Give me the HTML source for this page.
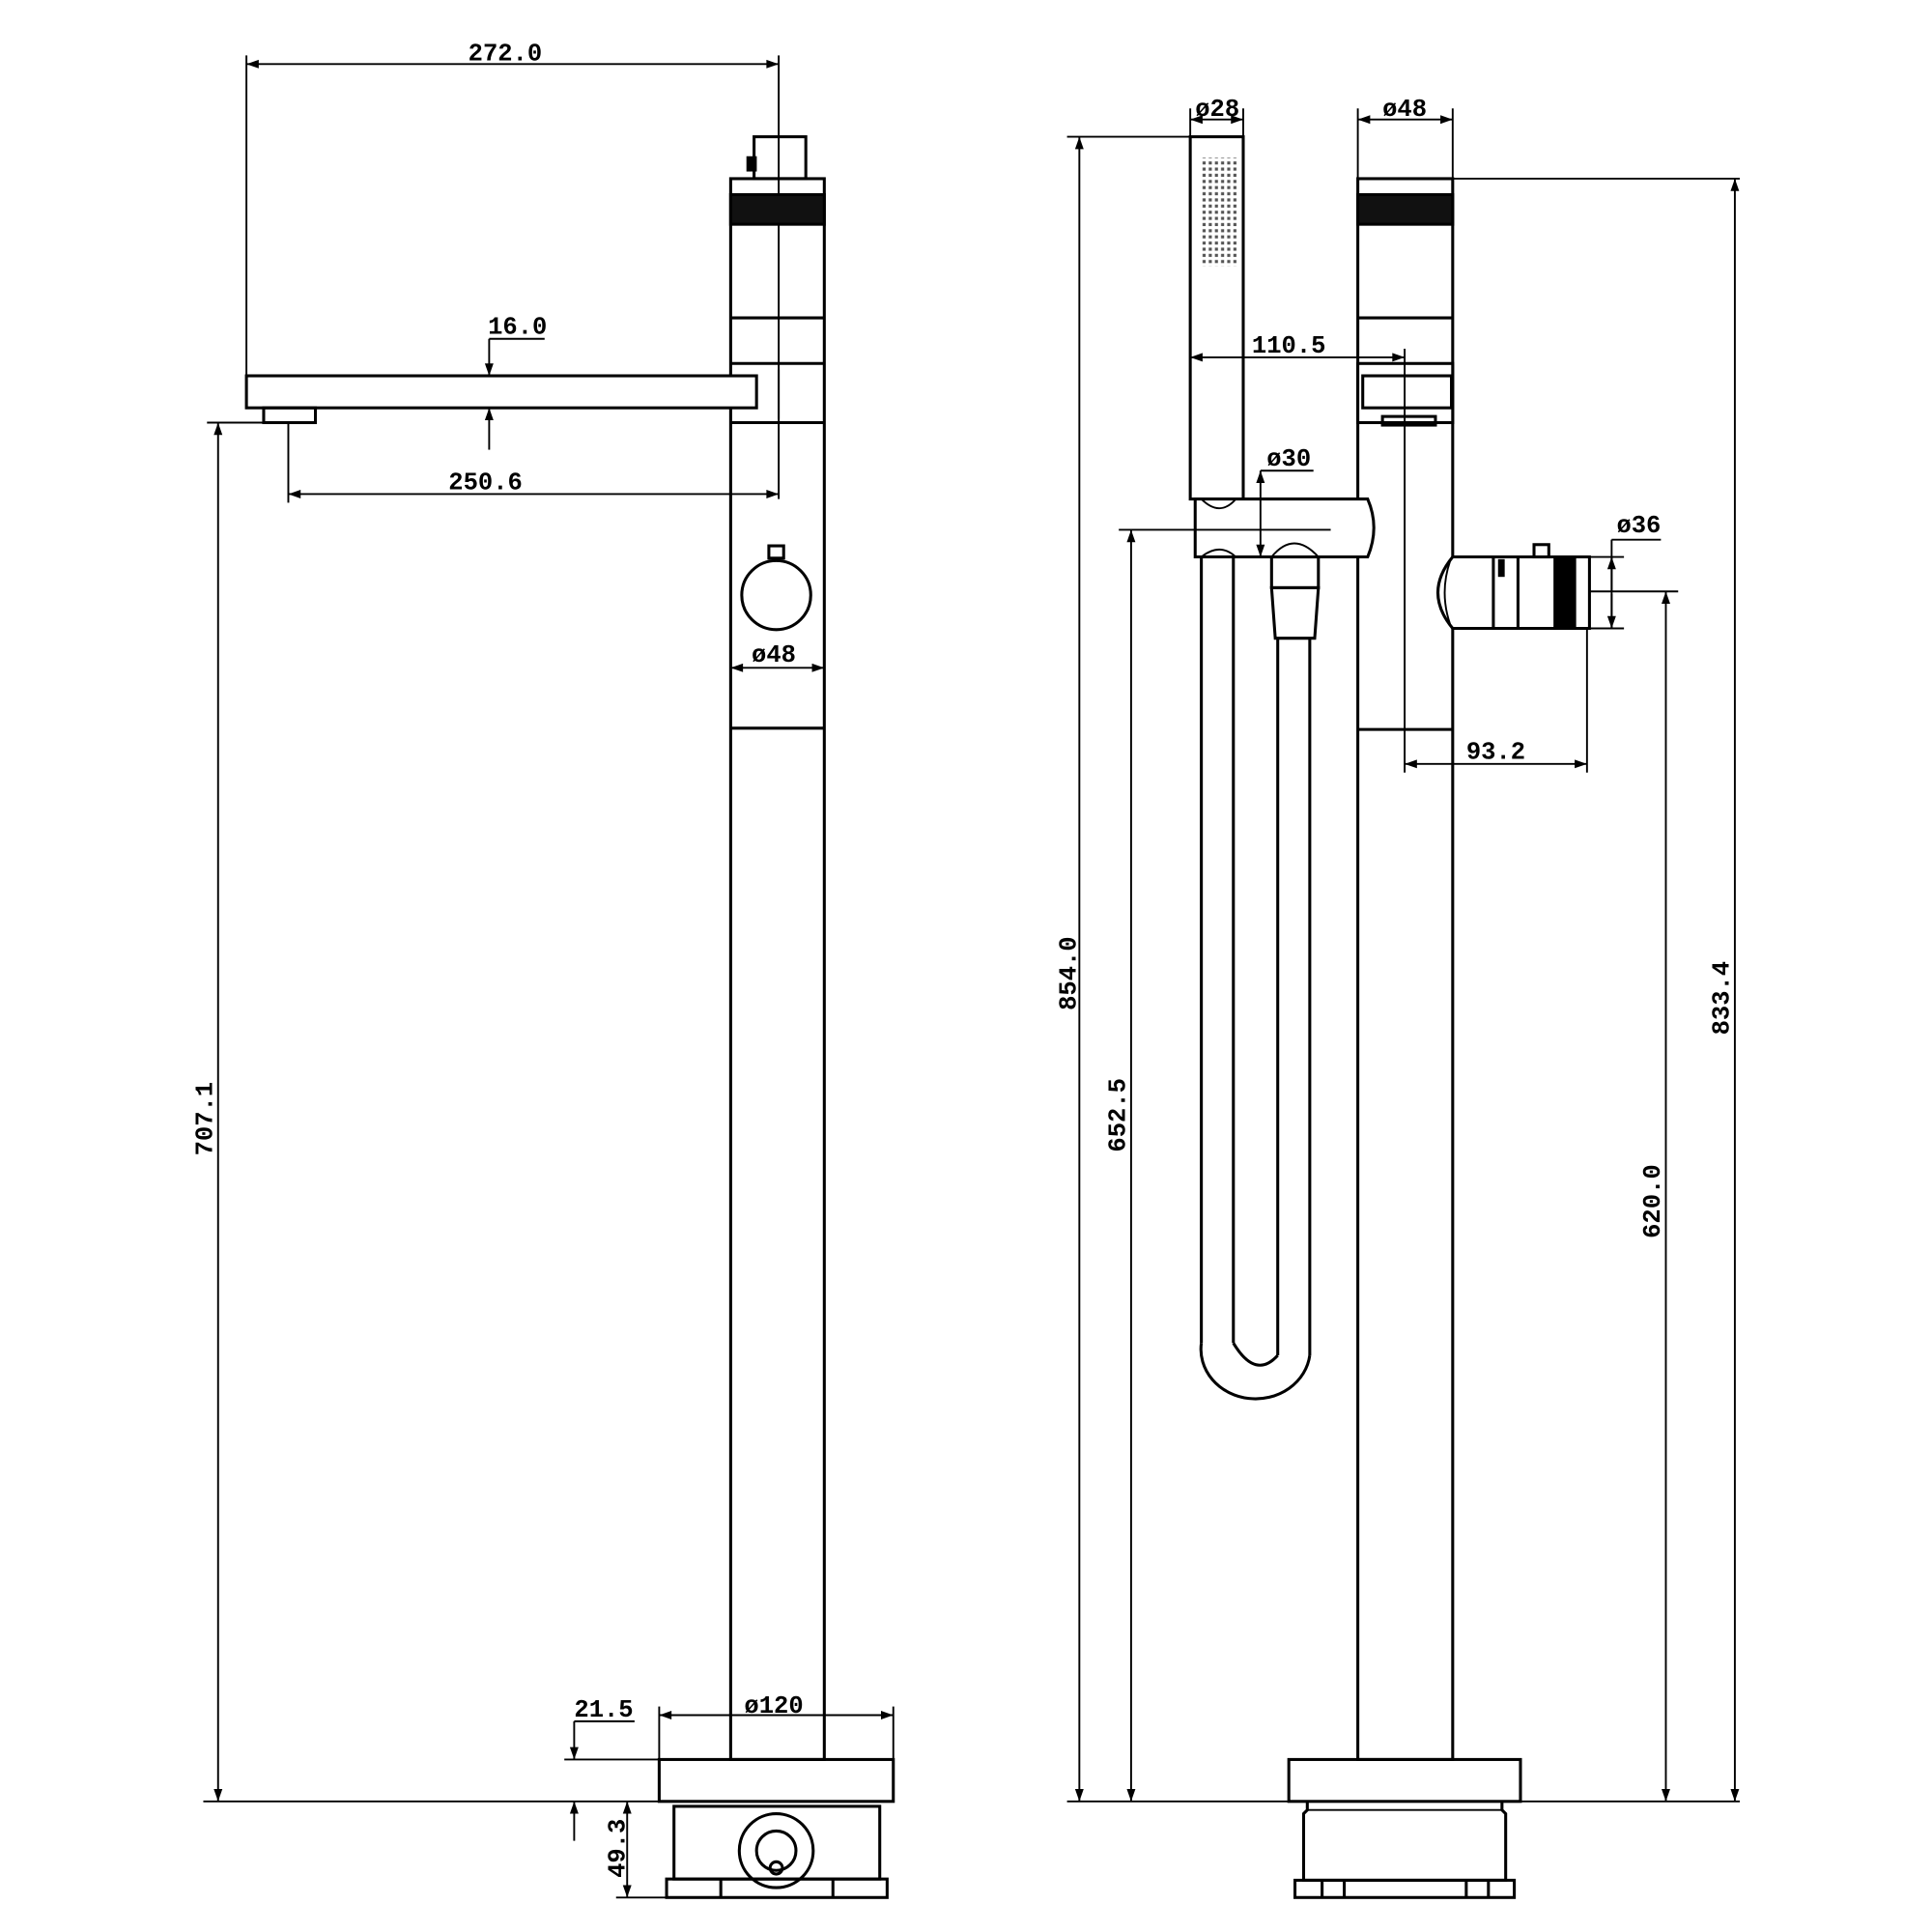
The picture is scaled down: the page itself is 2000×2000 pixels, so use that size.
<!DOCTYPE html>
<html><head><meta charset="utf-8"><style>
html,body{margin:0;padding:0;background:#fff;width:2000px;height:2000px;overflow:hidden}
svg{display:block}
text{font-family:"Liberation Mono","DejaVu Sans Mono",monospace;font-weight:bold;font-size:20px;fill:#000}
</style></head><body>
<svg width="2000" height="2000" viewBox="0 0 1568 1568" xmlns="http://www.w3.org/2000/svg">
<defs>
<marker id="a" viewBox="0 0 10 10" refX="10" refY="5" markerWidth="14" markerHeight="10" markerUnits="userSpaceOnUse" orient="auto-start-reverse"><path d="M0,1.5 L10,5 L0,8.5 z" fill="#000"/></marker>
<pattern id="dots" width="5" height="5" patternUnits="userSpaceOnUse"><rect width="5" height="5" fill="#fff"/><rect x="1" y="1" width="2.5" height="2.5" fill="#555"/></pattern>
</defs>
<g fill="none" stroke="#000" stroke-width="2.4">
<!-- LEFT VIEW -->
<line x1="200" y1="45" x2="200" y2="305" stroke-width="1.5"/>
<line x1="632" y1="45" x2="632" y2="405" stroke-width="1.5"/>
<line x1="200" y1="52" x2="632" y2="52" marker-start="url(#a)" marker-end="url(#a)" stroke-width="1.5"/>
<rect x="612" y="111" width="42" height="34"/>
<rect x="607" y="128" width="6" height="10" fill="#000"/>
<rect x="593" y="145" width="76" height="1283"/>
<rect x="593" y="158" width="76" height="24" fill="#111"/>
<line x1="593" y1="258" x2="669" y2="258"/>
<line x1="593" y1="295" x2="669" y2="295"/>
<line x1="593" y1="343" x2="669" y2="343"/>
<line x1="593" y1="591" x2="669" y2="591"/>
<rect x="200" y="305" width="414" height="26" fill="#fff"/>
<rect x="214" y="331" width="42" height="12"/>
<line x1="632" y1="300" x2="632" y2="340" stroke-width="1.5"/>
<line x1="397" y1="275" x2="397" y2="305" marker-end="url(#a)" stroke-width="1.5"/>
<line x1="397" y1="275" x2="442" y2="275" stroke-width="1.5"/>
<line x1="397" y1="365" x2="397" y2="331" marker-end="url(#a)" stroke-width="1.5"/>
<line x1="234" y1="343" x2="234" y2="408" stroke-width="1.5"/>
<line x1="234" y1="401" x2="632" y2="401" marker-start="url(#a)" marker-end="url(#a)" stroke-width="1.5"/>
<circle cx="630" cy="483" r="28"/>
<rect x="624" y="443" width="12" height="10"/>
<line x1="593" y1="542" x2="669" y2="542" marker-start="url(#a)" marker-end="url(#a)" stroke-width="1.5"/>
<line x1="168" y1="343" x2="214" y2="343" stroke-width="1.5"/>
<line x1="177" y1="343" x2="177" y2="1462" marker-start="url(#a)" marker-end="url(#a)" stroke-width="1.5"/>
<rect x="535" y="1428" width="190" height="34"/>
<line x1="535" y1="1385" x2="535" y2="1428" stroke-width="1.5"/>
<line x1="725" y1="1385" x2="725" y2="1428" stroke-width="1.5"/>
<line x1="535" y1="1392" x2="725" y2="1392" marker-start="url(#a)" marker-end="url(#a)" stroke-width="1.5"/>
<line x1="458" y1="1428" x2="535" y2="1428" stroke-width="1.5"/>
<line x1="466" y1="1397" x2="515" y2="1397" stroke-width="1.5"/>
<line x1="466" y1="1397" x2="466" y2="1428" marker-end="url(#a)" stroke-width="1.5"/>
<line x1="466" y1="1494" x2="466" y2="1462" marker-end="url(#a)" stroke-width="1.5"/>
<line x1="165" y1="1462" x2="725" y2="1462" stroke-width="1.5"/>
<rect x="547" y="1466" width="167" height="59"/>
<rect x="541" y="1525" width="179" height="15"/>
<line x1="585" y1="1525" x2="585" y2="1540"/><line x1="676" y1="1525" x2="676" y2="1540"/>
<circle cx="630" cy="1502" r="30"/><circle cx="630" cy="1502" r="16"/><circle cx="630" cy="1516" r="5"/>
<line x1="500" y1="1540" x2="541" y2="1540" stroke-width="1.5"/>
<line x1="509" y1="1462" x2="509" y2="1540" marker-start="url(#a)" marker-end="url(#a)" stroke-width="1.5"/>

<!-- RIGHT VIEW -->
<rect x="1102" y="145" width="77" height="1283"/>
<rect x="1102" y="158" width="77" height="24" fill="#111"/>
<line x1="1102" y1="258" x2="1179" y2="258"/>
<line x1="1102" y1="592" x2="1179" y2="592"/>
<line x1="1179" y1="145" x2="1412" y2="145" stroke-width="1.5"/>
<line x1="1102" y1="88" x2="1102" y2="145" stroke-width="1.5"/>
<line x1="1179" y1="88" x2="1179" y2="145" stroke-width="1.5"/>
<line x1="1102" y1="97" x2="1179" y2="97" marker-start="url(#a)" marker-end="url(#a)" stroke-width="1.5"/>
<rect x="1102" y="295" width="77" height="48" fill="#fff"/>
<rect x="1106" y="305" width="72" height="26"/>
<rect x="1122" y="338" width="43" height="7"/>
<rect x="966" y="111" width="43" height="294" fill="#fff"/>
<rect x="974" y="128" width="30" height="88" fill="url(#dots)" stroke="none"/>
<line x1="966" y1="88" x2="966" y2="111" stroke-width="1.5"/>
<line x1="1009" y1="88" x2="1009" y2="111" stroke-width="1.5"/>
<line x1="966" y1="97" x2="1009" y2="97" marker-start="url(#a)" marker-end="url(#a)" stroke-width="1.5"/>
<line x1="966" y1="290" x2="1140" y2="290" marker-start="url(#a)" marker-end="url(#a)" stroke-width="1.5"/>
<line x1="1140" y1="283" x2="1140" y2="627" stroke-width="1.5"/>
<path d="M970,405 L1110,405 Q1120,428 1110,452 L970,452 Z" fill="#fff"/>
<path d="M975,405 Q990,420 1003,405" stroke-width="1.5"/>
<path d="M1032,452 Q1050,430 1070,452" stroke-width="1.5"/>
<path d="M975,452 Q990,440 1003,452" stroke-width="1.5"/>
<line x1="866" y1="111" x2="966" y2="111" stroke-width="1.5"/>
<line x1="876" y1="111" x2="876" y2="1462" marker-start="url(#a)" marker-end="url(#a)" stroke-width="1.5"/>
<line x1="908" y1="430" x2="1080" y2="430" stroke-width="1.5"/>
<line x1="918" y1="430" x2="918" y2="1462" marker-start="url(#a)" marker-end="url(#a)" stroke-width="1.5"/>
<line x1="1023" y1="382" x2="1066" y2="382" stroke-width="1.5"/>
<line x1="1023" y1="382" x2="1023" y2="452" marker-start="url(#a)" marker-end="url(#a)" stroke-width="1.5"/>
<!-- hose -->
<line x1="975" y1="452" x2="975" y2="1090"/>
<line x1="1001" y1="452" x2="1001" y2="1090"/>
<line x1="1037" y1="518" x2="1037" y2="1100"/>
<line x1="1063" y1="518" x2="1063" y2="1100"/>
<path d="M975,1090 A44,40 0 0 0 1063,1100"/>
<path d="M1001,1090 Q1019,1120 1037,1100"/>
<rect x="1032" y="452" width="38" height="25"/>
<path d="M1032,477 L1070,477 L1067,518 L1035,518 Z"/>
<!-- diverter -->
<path d="M1179,452 L1290,452 L1290,510 L1179,510 Q1155,481 1179,452 Z" fill="#fff"/>
<path d="M1177,455 Q1168,481 1177,507" stroke-width="1.5"/>
<line x1="1212" y1="452" x2="1212" y2="510"/>
<line x1="1232" y1="452" x2="1232" y2="510"/>
<rect x="1217" y="455" width="3" height="12" fill="#000"/>
<rect x="1262" y="452" width="16" height="58" fill="#000"/>
<rect x="1245" y="442" width="12" height="10"/>
<line x1="1290" y1="452" x2="1318" y2="452" stroke-width="1.5"/>
<line x1="1290" y1="510" x2="1318" y2="510" stroke-width="1.5"/>
<line x1="1308" y1="438" x2="1348" y2="438" stroke-width="1.5"/>
<line x1="1308" y1="438" x2="1308" y2="510" stroke-width="1.5"/>
<line x1="1308" y1="480" x2="1308" y2="452" marker-end="url(#a)" stroke-width="1.5"/>
<line x1="1308" y1="482" x2="1308" y2="510" marker-end="url(#a)" stroke-width="1.5"/>
<line x1="1290" y1="480" x2="1362" y2="480" stroke-width="1.5"/>
<line x1="1352" y1="1462" x2="1352" y2="480" marker-start="url(#a)" marker-end="url(#a)" stroke-width="1.5"/>
<line x1="1408" y1="145" x2="1408" y2="1462" marker-start="url(#a)" marker-end="url(#a)" stroke-width="1.5"/>
<line x1="1288" y1="510" x2="1288" y2="627" stroke-width="1.5"/>
<line x1="1140" y1="620" x2="1288" y2="620" marker-start="url(#a)" marker-end="url(#a)" stroke-width="1.5"/>
<rect x="1046" y="1428" width="188" height="34"/>
<line x1="866" y1="1462" x2="1412" y2="1462" stroke-width="1.5"/>
<path d="M1061,1462 L1061,1469 L1058,1472 L1058,1526 L1222,1526 L1222,1472 L1219,1469 L1219,1462"/>
<line x1="1061" y1="1469" x2="1219" y2="1469" stroke-width="1.5"/>
<rect x="1051" y="1526" width="178" height="14"/>
<line x1="1073" y1="1526" x2="1073" y2="1540"/><line x1="1208" y1="1526" x2="1208" y2="1540"/>
<line x1="1091" y1="1526" x2="1091" y2="1540"/><line x1="1190" y1="1526" x2="1190" y2="1540"/>
</g>
<g text-anchor="middle">
<text x="410" y="49">272.0</text>
<text x="420" y="271">16.0</text>
<text x="394" y="397">250.6</text>
<text x="628" y="537">ø48</text>
<text x="628" y="1390">ø120</text>
<text x="490" y="1393">21.5</text>
<text x="988" y="94">ø28</text>
<text x="1140" y="94">ø48</text>
<text x="1046" y="286">110.5</text>
<text x="1046" y="378">ø30</text>
<text x="1330" y="432">ø36</text>
<text x="1214" y="616">93.2</text>
<text transform="translate(172,908) rotate(-90)">707.1</text>
<text transform="translate(507,1500) rotate(-90)">49.3</text>
<text transform="translate(873,790) rotate(-90)">854.0</text>
<text transform="translate(913,905) rotate(-90)">652.5</text>
<text transform="translate(1347,975) rotate(-90)">620.0</text>
<text transform="translate(1403,810) rotate(-90)">833.4</text>
</g>
</svg>
</body></html>
